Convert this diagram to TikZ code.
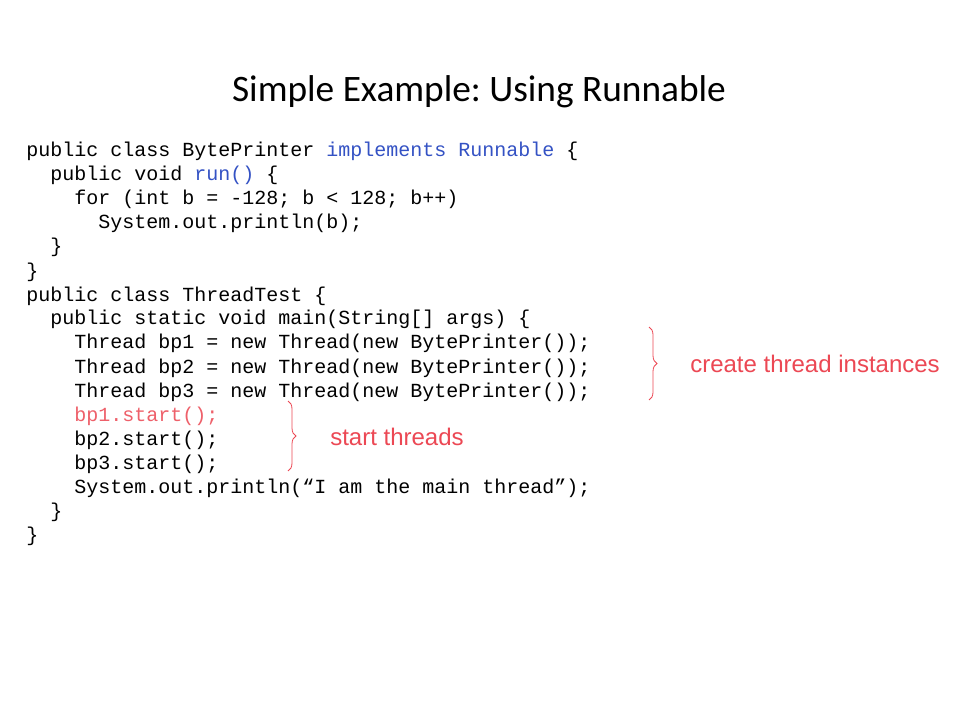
\documentclass[tikz,border=0pt]{standalone}
\usepackage{fontspec}
\setmainfont{Liberation Sans}
\newfontfamily\codefont{Liberation Mono}
\newfontfamily\titlefont{Carlito}
\usetikzlibrary{decorations.pathreplacing}
\frenchspacing
\definecolor{kwblue}{RGB}{52,82,196}
\definecolor{notered}{RGB}{236,72,84}
\definecolor{litered}{RGB}{238,96,106}
\tikzset{
  codeline/.style={anchor=base west, inner sep=0pt, font=\codefont\fontsize{15}{18}\selectfont},
  notelabel/.style={anchor=base west, inner sep=0pt, text=notered, font=\fontsize{18}{21}\selectfont},
  notebrace/.style={draw=notered, line width=0.6pt, decorate, decoration={brace, amplitude=6pt}},
}
\begin{document}
\begin{tikzpicture}[x=0.75pt,y=-0.75pt]
\useasboundingbox[fill=white] (0,0) rectangle (960,720);
\node[anchor=base, inner sep=0pt, font=\titlefont\fontsize{28}{32}\selectfont] (title) at (479,102) {Simple Example: Using Runnable};
\node[codeline] (l1) at (26,157) {public class BytePrinter \textcolor{kwblue}{implements Runnable} \{};
\node[codeline] (l2) at (50,181) {public void \textcolor{kwblue}{run()} \{};
\node[codeline] (l3) at (74,205) {for (int b = -128; b < 128; b++)};
\node[codeline] (l4) at (98,229) {System.out.println(b);};
\node[codeline] (l5) at (50,253) {\}};
\node[codeline] (l6) at (26,277) {\}};
\node[codeline] (l7) at (26,301) {public class ThreadTest \{};
\node[codeline] (l8) at (50,325) {public static void main(String[] args) \{};
\node[codeline] (l9) at (74,349) {Thread bp1 = new Thread(new BytePrinter());};
\node[codeline] (l10) at (74,373) {Thread bp2 = new Thread(new BytePrinter());};
\node[codeline] (l11) at (74,397) {Thread bp3 = new Thread(new BytePrinter());};
\node[codeline, text=litered] (l12) at (74,421) {bp1.start();};
\node[codeline] (l13) at (74,445) {bp2.start();};
\node[codeline] (l14) at (74,469) {bp3.start();};
\node[codeline] (l15) at (74,493) {System.out.println(“I am the main thread”);};
\node[codeline] (l16) at (50,517) {\}};
\node[codeline] (l17) at (26,541) {\}};
\coordinate (b1t) at (649,327);
\coordinate (b1b) at (649,400);
\coordinate (b2t) at (288,401);
\coordinate (b2b) at (288,471);
\draw[notebrace] (b1t) -- (b1b);
\draw[notebrace] (b2t) -- (b2b);
\node[notelabel] (create) at (690,372) {create thread instances};
\node[notelabel] (start) at (330,445) {start threads};
\end{tikzpicture}
\end{document}
